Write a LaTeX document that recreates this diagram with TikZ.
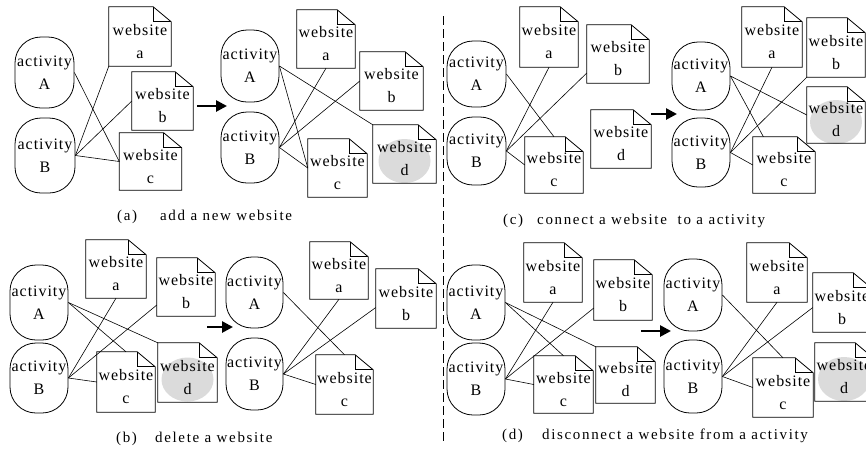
\documentclass[tikz,border=0pt]{standalone}
\usepackage{fontspec}
\setmainfont{Liberation Serif}
\newfontfamily\boxfont[LetterSpace=6]{Liberation Serif}
\newfontfamily\capfont[LetterSpace=11]{Liberation Serif}
\usetikzlibrary{arrows.meta,calc}
\tikzset{
  act/.style={draw, line width=0.8pt, rounded corners=26pt, inner sep=0pt, align=center,
    font=\boxfont\fontsize{16}{23}\selectfont},
  web/.style={inner sep=0pt},
  webtxt/.style={inner sep=0pt, align=center, font=\boxfont\fontsize{16}{23}\selectfont},
  outline/.style={draw, line width=0.8pt, line join=miter},
  fold/.style={line width=0.8pt},
  shade/.style={fill=black!14},
  link/.style={line width=0.6pt},
  bigarrow/.style={line width=2.6pt, -{Triangle[length=11pt,width=11pt]}},
  captext/.style={font=\capfont\fontsize{15}{17}\selectfont, inner sep=0pt, anchor=base west},
  divider/.style={line width=0.8pt, dash pattern=on 9pt off 4pt}
}
% name, x, y, w, h, letter
\newcommand\wsite[6]{%
  \node[web, minimum width=#4pt, minimum height=#5pt] (#1) at (#2,#3) {};
  \draw[outline] (#1.north west) -- ([xshift=-18pt]#1.north east) -- ([yshift=-15pt]#1.north east)
     -- (#1.south east) -- (#1.south west) -- cycle;
  \draw[fold] ([xshift=-18pt]#1.north east) |- ([yshift=-15pt]#1.north east);
  \node[webtxt] (#1t) at ([yshift=-5pt]#1.center) {website\\#6};
}
\newcommand\wsitegray[6]{%
  \fill[shade] (#2,{#3+7}) ellipse [x radius=26pt, y radius=22pt];
  \wsite{#1}{#2}{#3}{#4}{#5}{#6}
}
\newcommand\actnode[6]{% name, x, y, w, h, letter
  \node[act, minimum width=#4pt, minimum height=#5pt] (#1) at (#2,#3) {activity\\#6};
}
\begin{document}
\begin{tikzpicture}[x=1pt,y=-1pt]
\fill[white] (0,0) rectangle (866,448);
\useasboundingbox (0,0) rectangle (866,448);

% ---------- (a) left
\actnode{aLA}{44.5}{72.5}{59}{71}{A}
\actnode{aLB}{45}{155.5}{60}{75}{B}
\wsite{aLwa}{140}{36.5}{62}{59}{a}
\wsite{aLwb}{162.5}{101}{61}{58}{b}
\wsite{aLwc}{150.5}{161.5}{62}{57}{c}
\draw[link] (aLA.east) -- (aLwc.west);
\draw[link] (aLB.east) -- (aLwa.south west);
\draw[link] (aLB.east) -- (aLwb.west);
\draw[link] (aLB.east) -- (aLwc.west);
\coordinate (arA1) at (197,106); \coordinate (arA2) at (227,106);
\draw[bigarrow] (arA1) -- (arA2);

% ---------- (a) right
\actnode{aRA}{250}{66}{58}{72}{A}
\actnode{aRB}{250}{147.5}{58}{71}{B}
\wsite{aRwa}{326}{39}{58}{58}{a}
\wsite{aRwb}{391.5}{81}{63}{58}{b}
\wsite{aRwc}{337.5}{168}{59}{58}{c}
\wsitegray{aRwd}{404.5}{154}{63}{58}{d}
\draw[link] (aRA.east) -- (aRwd.north west);
\draw[link] (aRA.east) -- (aRwc.west);
\draw[link] (aRB.east) -- (aRwa.south);
\draw[link] (aRB.east) -- (aRwb.west);
\draw[link] (aRB.east) -- (aRwc.west);

% ---------- (c) left
\actnode{cLA}{476.5}{74}{59}{66}{A}
\actnode{cLB}{476.5}{151}{59}{68}{B}
\wsite{cLwa}{549}{37}{58}{60}{a}
\wsite{cLwb}{618}{54}{62}{58}{b}
\wsite{cLwc}{554}{165}{58}{56}{c}
\wsite{cLwd}{621}{139}{60}{58}{d}
\draw[link] (cLA.east) -- (cLwc.north);
\draw[link] (cLB.east) -- (cLwa.south);
\draw[link] (cLB.east) -- ([yshift=-19pt]cLwb.west);
\draw[link] (cLB.east) -- (cLwc.west);
\coordinate (arC1) at (651,114); \coordinate (arC2) at (677,114);
\draw[bigarrow] (arC1) -- (arC2);

% ---------- (c) right
\actnode{cRA}{701}{76}{58}{68}{A}
\actnode{cRB}{701}{152.5}{58}{69}{B}
\wsite{cRwa}{772}{37}{60}{60}{a}
\wsite{cRwb}{836}{47.5}{58}{59}{b}
\wsitegray{cRwd}{836}{115}{58}{56}{d}
\wsite{cRwc}{784}{165}{62}{56}{c}
\draw[link] (cRA.east) -- (cRwd.west);
\draw[link] (cRA.east) -- ($(cRwc.north west)!0.17!(cRwc.north east)$);
\draw[link] (cRB.east) -- (cRwa.south);
\draw[link] (cRB.east) -- (cRwb.south west);
\draw[link] (cRB.east) -- (cRwc.west);

% ---------- (b) left
\actnode{bLA}{39}{302.5}{58}{75}{A}
\actnode{bLB}{39}{378}{58}{70}{B}
\wsite{bLwa}{116}{269}{60}{58}{a}
\wsite{bLwb}{186}{287}{58}{58}{b}
\wsite{bLwc}{126}{382}{58}{60}{c}
\wsitegray{bLwd}{187.5}{372.5}{59}{59}{d}
\draw[link] (bLA.east) -- (bLwd.north west);
\draw[link] (bLA.east) -- (bLwc.north);
\draw[link] (bLB.east) -- (bLwa.south);
\draw[link] (bLB.east) -- ([yshift=-18pt]bLwb.west);
\draw[link] (bLB.east) -- (bLwc.west);
\coordinate (arB1) at (207,327); \coordinate (arB2) at (233,327);
\draw[bigarrow] (arB1) -- (arB2);

% ---------- (b) right
\actnode{bRA}{254.5}{292.5}{57}{71}{A}
\actnode{bRB}{254.5}{374}{57}{72}{B}
\wsite{bRwa}{339}{270.5}{58}{57}{a}
\wsite{bRwb}{406}{298.5}{60}{59}{b}
\wsite{bRwc}{344.5}{384.5}{57}{59}{c}
\draw[link] (bRA.east) -- (bRwc.north);
\draw[link] (bRB.east) -- (bRwa.south);
\draw[link] (bRB.east) -- ([yshift=-9pt]bRwb.west);
\draw[link] (bRB.east) -- (bRwc.west);

% ---------- (d) left
\actnode{dLA}{476}{302.5}{58}{75}{A}
\actnode{dLB}{476}{379}{58}{72}{B}
\wsite{dLwa}{553}{272.5}{58}{59}{a}
\wsite{dLwb}{623}{290}{58}{60}{b}
\wsite{dLwc}{563.5}{384.5}{59}{57}{c}
\wsite{dLwd}{625.5}{375}{59}{56}{d}
\draw[link] (dLA.east) -- (dLwd.north west);
\draw[link] (dLA.east) -- (dLwc.north);
\draw[link] (dLB.east) -- (dLwa.south);
\draw[link] (dLB.east) -- ([yshift=-18pt]dLwb.west);
\draw[link] (dLB.east) -- (dLwc.west);
\coordinate (arD1) at (641,331); \coordinate (arD2) at (671,331);
\draw[bigarrow] (arD1) -- (arD2);

% ---------- (d) right
\actnode{dRA}{693}{295}{58}{72}{A}
\actnode{dRB}{693}{376.5}{58}{73}{B}
\wsite{dRwa}{777}{272.5}{60}{59}{a}
\wsite{dRwb}{842}{302.5}{58}{59}{b}
\wsitegray{dRwd}{844}{372}{58}{58}{d}
\wsite{dRwc}{783}{387.5}{60}{59}{c}
\draw[link] (dRA.east) -- (dRwc.north);
\draw[link] (dRB.east) -- (dRwa.south);
\draw[link] (dRB.east) -- ([yshift=-5pt]dRwb.west);
\draw[link] (dRB.east) -- (dRwc.west);

% ---------- divider
\coordinate (dv1) at (443,16); \coordinate (dv2) at (443,442);
\draw[divider] (dv1) -- (dv2);

% ---------- captions
\node[captext] (capAl) at (117,220) {(a)};
\node[captext] (capA) at (160,220) {add a new website};
\node[captext] (capBl) at (116,442) {(b)};
\node[captext] (capB) at (155,442) {delete a website};
\node[captext] (capCl) at (503,224) {(c)};
\node[captext] (capC) at (537,224) {connect a website\ \ to a activity};
\node[captext] (capDl) at (502,439) {(d)};
\node[captext] (capD) at (542,439) {disconnect a website\ from a activity};
\end{tikzpicture}
\end{document}
